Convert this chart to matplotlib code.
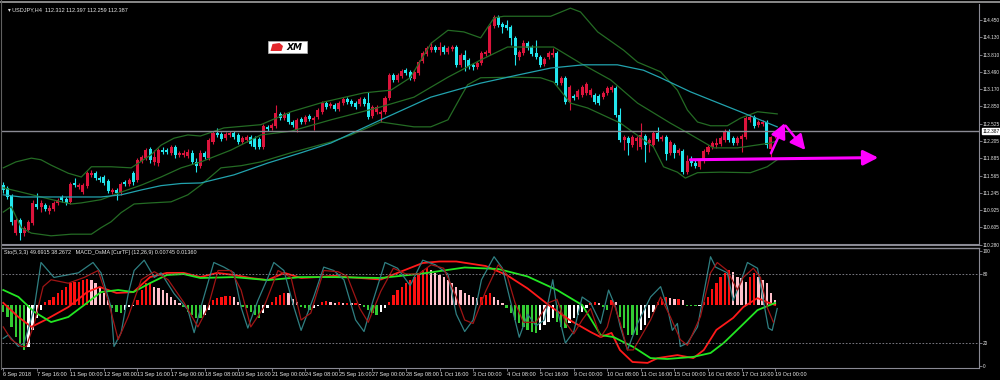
import numpy as np
import matplotlib
matplotlib.use("Agg")
import matplotlib.pyplot as plt
from matplotlib.patches import Rectangle, Polygon

plt.rcParams["font.family"] = ["Liberation Sans", "DejaVu Sans"]

# ---------------- data: USDJPY H4 candles ----------------
opens = [111.40, 111.34, 111.19, 110.51, 110.74, 110.51, 110.56, 110.69, 111.04, 110.99,
         111.02, 110.91, 110.95, 111.06, 111.17, 111.13, 111.08, 111.43, 111.36, 111.27,
         111.38, 111.58, 111.62, 111.53, 111.54, 111.47, 111.27, 111.30, 111.25, 111.45,
         111.41, 111.62, 111.49, 111.84, 111.90, 112.06, 111.82, 111.80, 112.04, 112.04,
         111.99, 112.10, 111.95, 111.95, 111.93, 111.99, 111.82, 111.75, 111.99, 111.90,
         112.19, 112.36, 112.34, 112.27, 112.32, 112.36, 112.32, 112.19, 112.23, 112.28,
         112.27, 112.25, 112.10, 112.47, 112.45, 112.49, 112.71, 112.64, 112.71, 112.56,
         112.41, 112.62, 112.56, 112.67, 112.60, 112.65, 112.75, 112.91, 112.86, 112.88,
         112.80, 112.91, 112.99, 112.95, 112.91, 112.89, 112.99, 112.91, 112.67, 112.75,
         112.71, 112.75, 113.01, 113.43, 113.34, 113.41, 113.52, 113.49, 113.36, 113.47,
         113.69, 113.82, 113.89, 113.95, 113.89, 113.95, 113.86, 113.91, 113.95, 113.62,
         113.80, 113.71, 113.62, 113.58, 113.65, 113.82, 113.84, 114.34, 114.51, 114.38,
         114.36, 114.32, 114.12, 113.76, 113.84, 114.02, 113.95, 113.84, 113.76, 113.64,
         113.76, 113.80, 113.84, 113.28, 113.38, 112.93, 113.04, 113.02, 113.06, 113.10,
         113.06, 113.06, 113.04, 113.02, 113.10, 113.15, 113.19, 112.69, 112.23, 112.27,
         112.14, 112.21, 112.10, 112.30, 112.17, 112.14, 112.36, 112.25, 112.28, 111.99,
         112.14, 111.99, 112.03, 111.64, 111.84, 111.80, 111.73, 111.84, 112.01, 112.10,
         112.14, 112.15, 112.23, 112.39, 112.27, 112.17, 112.25, 112.28, 112.60, 112.65,
         112.51, 112.52, 112.56, 112.06, 112.31]
highs = [111.45, 111.38, 111.23, 110.78, 110.78, 110.64, 110.74, 111.12, 111.25, 111.12,
         111.06, 111.02, 111.10, 111.15, 111.21, 111.17, 111.45, 111.53, 111.43, 111.43,
         111.65, 111.67, 111.65, 111.56, 111.58, 111.51, 111.34, 111.34, 111.45, 111.49,
         111.53, 111.65, 111.90, 111.95, 112.08, 112.10, 112.04, 112.08, 112.10, 112.08,
         112.14, 112.14, 112.03, 112.04, 112.06, 112.04, 111.90, 112.04, 112.03, 112.27,
         112.39, 112.45, 112.38, 112.38, 112.39, 112.39, 112.36, 112.30, 112.32, 112.32,
         112.30, 112.28, 112.52, 112.51, 112.54, 112.88, 112.75, 112.75, 112.75, 112.60,
         112.64, 112.65, 112.69, 112.71, 112.67, 112.82, 112.95, 112.95, 112.93, 112.91,
         112.95, 113.02, 113.02, 112.99, 112.95, 113.02, 113.02, 113.12, 112.88, 112.88,
         112.78, 113.04, 113.47, 113.47, 113.47, 113.54, 113.56, 113.52, 113.52, 113.71,
         113.88, 113.97, 114.04, 113.99, 114.04, 113.99, 113.97, 113.99, 113.99, 113.84,
         113.89, 113.75, 113.65, 113.69, 113.88, 113.89, 114.38, 114.54, 114.54, 114.41,
         114.45, 114.36, 114.15, 113.89, 114.08, 114.06, 113.99, 114.08, 113.80, 113.76,
         113.88, 113.93, 113.88, 113.41, 113.41, 113.25, 113.08, 113.17, 113.25, 113.30,
         113.19, 113.10, 113.08, 113.13, 113.23, 113.25, 113.23, 112.82, 112.32, 112.30,
         112.32, 112.30, 112.54, 112.34, 112.27, 112.39, 112.47, 112.32, 112.32, 112.23,
         112.17, 112.08, 112.06, 111.95, 111.93, 111.86, 111.88, 112.06, 112.14, 112.21,
         112.27, 112.30, 112.43, 112.43, 112.30, 112.30, 112.34, 112.67, 112.71, 112.69,
         112.60, 112.60, 112.60, 112.30, 112.40]
lows = [111.25, 111.13, 110.65, 110.47, 110.38, 110.45, 110.52, 110.65, 110.95, 110.89,
        110.91, 110.86, 110.91, 111.02, 111.08, 111.02, 111.04, 111.36, 111.32, 111.23,
        111.34, 111.54, 111.49, 111.45, 111.40, 111.25, 111.23, 111.12, 111.21, 111.38,
        111.38, 111.40, 111.45, 111.80, 111.86, 111.80, 111.77, 111.75, 111.97, 111.97,
        111.95, 111.90, 111.91, 111.91, 111.90, 111.78, 111.64, 111.71, 111.88, 111.86,
        112.15, 112.28, 112.21, 112.23, 112.28, 112.25, 112.15, 112.15, 112.19, 112.12,
        112.06, 112.06, 112.06, 112.39, 112.41, 112.45, 112.60, 112.60, 112.52, 112.47,
        112.38, 112.52, 112.52, 112.58, 112.41, 112.62, 112.71, 112.80, 112.82, 112.76,
        112.76, 112.88, 112.89, 112.86, 112.80, 112.86, 112.86, 112.62, 112.64, 112.71,
        112.56, 112.71, 112.97, 113.30, 113.30, 113.38, 113.43, 113.34, 113.32, 113.43,
        113.65, 113.78, 113.86, 113.86, 113.80, 113.82, 113.82, 113.88, 113.58, 113.58,
        113.51, 113.54, 113.52, 113.54, 113.62, 113.78, 113.80, 114.30, 114.32, 114.21,
        114.26, 113.99, 113.62, 113.71, 113.80, 113.89, 113.78, 113.73, 113.58, 113.60,
        113.73, 113.76, 113.25, 113.25, 112.89, 112.78, 112.97, 112.99, 113.02, 113.06,
        113.02, 112.89, 112.88, 112.99, 113.06, 113.12, 112.65, 112.19, 112.04, 111.95,
        112.10, 112.04, 112.06, 111.82, 112.01, 112.10, 112.21, 112.21, 111.86, 111.95,
        111.90, 111.95, 111.60, 111.60, 111.75, 111.71, 111.69, 111.80, 111.97, 112.06,
        112.08, 112.12, 112.19, 112.19, 112.14, 112.14, 112.01, 112.25, 112.56, 112.45,
        112.47, 112.49, 112.08, 111.91, 112.26]
closes = [111.30, 111.17, 110.71, 110.74, 110.51, 110.60, 110.71, 111.06, 110.99, 111.06,
          110.95, 110.97, 111.06, 111.12, 111.12, 111.06, 111.41, 111.40, 111.40, 111.40,
          111.62, 111.62, 111.53, 111.49, 111.43, 111.28, 111.30, 111.25, 111.41, 111.41,
          111.49, 111.45, 111.86, 111.91, 112.04, 111.86, 111.91, 112.04, 112.01, 112.01,
          112.10, 111.95, 111.99, 111.99, 112.01, 111.82, 111.75, 111.99, 111.91, 112.23,
          112.36, 112.32, 112.25, 112.34, 112.36, 112.28, 112.19, 112.27, 112.28, 112.15,
          112.10, 112.10, 112.49, 112.43, 112.51, 112.73, 112.64, 112.71, 112.56, 112.51,
          112.60, 112.56, 112.65, 112.62, 112.64, 112.78, 112.91, 112.84, 112.89, 112.80,
          112.91, 112.99, 112.93, 112.89, 112.84, 112.99, 112.89, 112.65, 112.84, 112.84,
          112.75, 113.01, 113.43, 113.34, 113.43, 113.51, 113.47, 113.38, 113.49, 113.67,
          113.84, 113.93, 113.95, 113.89, 113.95, 113.86, 113.93, 113.95, 113.62, 113.80,
          113.71, 113.58, 113.58, 113.65, 113.84, 113.86, 114.34, 114.51, 114.36, 114.32,
          114.30, 114.12, 113.80, 113.86, 114.02, 113.93, 113.82, 113.76, 113.62, 113.73,
          113.84, 113.84, 113.28, 113.38, 112.93, 113.21, 113.01, 113.13, 113.21, 113.26,
          113.15, 112.93, 112.91, 113.10, 113.19, 113.21, 112.69, 112.23, 112.28, 112.17,
          112.28, 112.27, 112.32, 112.14, 112.23, 112.36, 112.25, 112.28, 111.97, 112.19,
          111.99, 112.04, 111.64, 111.84, 111.80, 111.75, 111.84, 112.03, 112.10, 112.17,
          112.17, 112.27, 112.39, 112.23, 112.17, 112.27, 112.30, 112.64, 112.65, 112.49,
          112.56, 112.56, 112.14, 112.28, 112.39]

# Bollinger bands and moving average, sampled (bar index, price)
bb_up_x = [0, 3, 6.7, 9, 11.4, 15.5, 18.6, 21, 25.7, 30.5, 35.2, 37.6, 40.7, 44, 47, 52.6, 61.4,
           68.6, 76.4, 86, 92.4, 97, 102, 106, 109.8, 113.8, 117, 119.3, 130.5, 135.2, 137.6,
           141.7, 147.9, 151.2, 156.7, 160.7, 163.1, 165.5, 168.6, 172.6, 175.7, 179.8, 184.5]
bb_up_y = [111.71, 111.82, 111.89, 111.86, 111.76, 111.61, 111.54, 111.73, 111.73, 111.71,
           111.95, 112.13, 112.26, 112.32, 112.30, 112.45, 112.51, 112.75, 112.93, 113.10,
           113.15, 113.38, 114.02, 114.26, 114.23, 114.12, 114.49, 114.52, 114.52, 114.67,
           114.60, 114.23, 113.89, 113.67, 113.49, 113.15, 112.78, 112.56, 112.49, 112.49,
           112.63, 112.75, 112.71]
bb_mid_x = [0, 4.3, 9, 13.8, 16.2, 18.6, 23.3, 28.1, 32.9, 37.6, 42.4, 47.1, 54.3, 61.4, 68.6,
            78.1, 90, 97.9, 106, 113.8, 120.2, 131.2, 137.6, 144.8, 151.2, 159, 163.1, 169.3,
            175, 182.9, 184.5]
bb_mid_y = [111.34, 111.26, 111.17, 111.08, 111.04, 111.06, 111.12, 111.26, 111.39, 111.54,
            111.71, 111.82, 112.04, 112.32, 112.39, 112.60, 112.84, 113.02, 113.39, 113.71,
            113.95, 113.95, 113.65, 113.34, 112.91, 112.54, 112.36, 112.08, 112.08, 112.17,
            112.21]
bb_lo_x = [0, 1.9, 4.3, 6.7, 11.4, 16.2, 21, 23.3, 25.7, 28.1, 31.2, 35.2, 40, 44, 47.1, 51.9,
           56.7, 61.4, 68.6, 78.1, 82.9, 90, 97.9, 101.9, 106, 109, 110.7, 113.8, 121.7, 128.1,
           131.2, 135.2, 139.3, 147.1, 155, 157.4, 160.7, 162.6, 165.5, 171, 178.1, 182.1, 184.5]
bb_lo_y = [110.89, 110.99, 110.60, 110.50, 110.45, 110.48, 110.48, 110.60, 110.71, 110.88,
           111.04, 111.06, 111.08, 111.21, 111.39, 111.71, 111.75, 111.82, 111.99, 112.19,
           112.32, 112.56, 112.47, 112.47, 112.60, 113.02, 113.25, 113.38, 113.39, 113.38,
           113.30, 112.91, 112.82, 112.54, 112.10, 111.73, 111.63, 111.52, 111.62, 111.63,
           111.62, 111.73, 111.86]
ma_x = [0, 4.3, 13.8, 23.3, 28.1, 32.9, 37.6, 42.4, 47.1, 55, 63.1, 71, 78.1, 90, 101.9, 113.8,
        122.6, 130.5, 138.3, 146.4, 152.6, 156.7, 163.8, 168.6, 175.7, 184.5]
ma_y = [111.21, 111.17, 111.17, 111.17, 111.21, 111.30, 111.38, 111.42, 111.43, 111.58, 111.80,
        111.99, 112.17, 112.60, 113.02, 113.28, 113.43, 113.56, 113.62, 113.62, 113.52, 113.38,
        113.12, 112.97, 112.75, 112.47]

# MACD OsMA histogram (one value per bar) and its two signal lines
osma = [-0.022, -0.039, -0.072, -0.106, -0.128, -0.150, -0.139, -0.083, -0.044, -0.017,
        0.011, 0.017, 0.028, 0.039, 0.050, 0.061, 0.072, 0.076, 0.078, 0.083,
        0.086, 0.083, 0.074, 0.061, 0.039, 0.017, -0.010, -0.022, -0.028, -0.017,
        -0.008, -0.005, 0.017, 0.050, 0.072, 0.072, 0.061, 0.056, 0.050, 0.039,
        0.028, 0.017, 0.006, -0.008, -0.022, -0.033, -0.044, -0.044, -0.033, -0.017,
        0.017, 0.022, 0.028, 0.030, 0.031, 0.026, 0.011, -0.006, -0.011, -0.022,
        -0.033, -0.044, -0.028, -0.011, 0.011, 0.026, 0.033, 0.041, 0.039, 0.019,
        0.011, -0.006, -0.011, -0.017, -0.011, -0.004, 0.011, 0.012, 0.010, 0.008,
        0.009, 0.006, 0.008, 0.005, 0.005, 0.003, -0.006, -0.017, -0.028, -0.033,
        -0.022, -0.011, 0.011, 0.033, 0.050, 0.061, 0.072, 0.083, 0.094, 0.106,
        0.117, 0.122, 0.117, 0.106, 0.100, 0.094, 0.083, 0.072, 0.061, 0.050,
        0.039, 0.033, 0.028, 0.022, 0.028, 0.033, 0.039, 0.028, 0.017, 0.006,
        -0.011, -0.028, -0.050, -0.061, -0.072, -0.083, -0.089, -0.094, -0.083, -0.067,
        -0.056, -0.044, -0.056, -0.072, -0.078, -0.061, -0.044, -0.033, -0.022, -0.011,
        0.006, 0.011, 0.006, -0.006, -0.017, 0.017, 0.010, -0.039, -0.078, -0.100,
        -0.100, -0.101, -0.083, -0.067, -0.044, -0.022, 0.011, 0.019, 0.026, 0.022,
        0.019, 0.020, 0.017, -0.003, -0.003, -0.004, -0.002, 0.011, 0.028, 0.052,
        0.072, 0.094, 0.106, 0.117, 0.111, 0.094, 0.089, 0.078, 0.094, 0.106,
        0.092, 0.083, 0.072, 0.039, 0.017]
macd_x = [0, 3.6, 6.7, 10, 15.5, 20, 23, 27, 31, 35, 39, 43, 47, 51, 55, 59, 63, 67, 71, 75, 79,
          82, 90, 100, 104, 108, 115, 120, 125, 130, 135, 140, 142.4, 145, 147, 150, 153.6, 156,
          160.7, 164.5, 167, 170, 174, 176.4, 179.8, 182, 184]
macd_y = [0.007, -0.040, -0.073, -0.050, -0.007, 0.043, 0.060, 0.040, 0.043, 0.093, 0.107,
          0.107, 0.093, 0.107, 0.100, 0.090, 0.083, 0.107, 0.090, 0.093, 0.097, 0.093, 0.085,
          0.140, 0.145, 0.145, 0.130, 0.100, 0.055, 0.000, -0.050, -0.090, -0.107, -0.093,
          -0.150, -0.190, -0.193, -0.177, -0.167, -0.177, -0.150, -0.083, -0.043, -0.007, 0.023,
          0.010, 0.000]
sig_x = [0, 3.6, 7.4, 11.4, 15.5, 19.3, 23.3, 27.4, 31, 35, 39, 43, 47, 55, 63, 71, 79, 90, 100,
         110, 118, 125, 132, 138, 142.4, 145.5, 150.2, 154.3, 158.3, 164.5, 168.6, 171.7, 175.7,
         179.8, 184]
sig_y = [0.050, 0.027, -0.023, -0.057, -0.040, 0.000, 0.043, 0.050, 0.043, 0.073, 0.100, 0.103,
         0.090, 0.093, 0.083, 0.093, 0.093, 0.090, 0.105, 0.125, 0.120, 0.095, 0.050, 0.000,
         -0.100, -0.107, -0.140, -0.177, -0.180, -0.173, -0.160, -0.127, -0.073, -0.017, 0.007]

# Stochastic (5,3,3): main and signal, sampled at turning points
sto_x = [0, 1.2, 3.6, 5, 7.4, 9, 12.1, 17.9, 21.4, 23.3, 25.7, 26.4, 28.1, 29.8, 31.2, 33.6, 36,
         37.6, 40.7, 44, 45.5, 47.1, 50.2, 52.6, 55, 56.7, 58.3, 60.7, 63.1, 64.5, 66.9, 69.3,
         71, 74, 76.4, 78.8, 81.2, 84, 86, 88, 91, 94, 97, 100, 103, 106, 108, 110, 112, 114,
         117, 119, 121, 123, 125, 127, 129, 131, 132, 134, 136, 138, 140, 142.4, 144.3, 146,
         147.1, 148.8, 151.2, 154.3, 156.7, 158.3, 159.5, 160.7, 161.4, 163.1, 165.5, 167.9,
         168.6, 169.8, 172.6, 174, 175.7, 177.4, 179.8, 181.2, 182.4, 183.3, 184.5]
sto_y = [24, 27, 17, 20, 51, 90, 77, 81, 90, 81, 51, 17, 29, 63, 83, 92, 77, 81, 63, 49, 29, 51,
         90, 86, 81, 51, 33, 57, 77, 90, 83, 51, 31, 60, 86, 83, 75, 40, 30, 55, 90, 85, 70, 92,
         88, 80, 45, 30, 40, 75, 95, 85, 55, 25, 45, 35, 40, 75, 50, 20, 30, 60, 55, 37, 66, 51,
         34, 14, 37, 60, 69, 51, 31, 37, 17, 20, 34, 81, 95, 86, 81, 57, 72, 90, 85, 57, 33, 31,
         50]
stos_x = [0, 1.9, 4.3, 5.5, 7.4, 9.5, 11.4, 15.5, 19.3, 22.6, 25, 27.4, 29.8, 32.9, 36, 39.3,
          43.1, 46.4, 48.8, 51.2, 54.3, 56.7, 59, 62.1, 65.5, 68.6, 71, 73.3, 76.4, 79.8, 82,
          85, 87, 90, 93, 96, 99, 102, 105, 108, 110, 112, 115, 118, 120, 122, 124, 127, 130,
          132, 134, 136, 138, 140, 142.4, 144, 145.5, 147.1, 148.8, 150.2, 154.3, 156.7, 159,
          161.4, 163.1, 166.2, 168.6, 170.2, 172.6, 175, 176.4, 178.8, 180.5, 182.1, 183.6]
stos_y = [34, 23, 17, 17, 37, 69, 75, 72, 77, 83, 57, 23, 43, 75, 82, 75, 55, 34, 51, 83, 83, 66,
          34, 51, 83, 77, 40, 46, 83, 82, 78, 50, 38, 65, 85, 80, 80, 88, 85, 60, 40, 37, 65, 88,
          80, 55, 38, 38, 55, 58, 38, 28, 40, 50, 25, 34, 55, 37, 14, 14, 40, 60, 43, 23, 18, 43,
          81, 90, 83, 66, 77, 85, 77, 51, 38]

price_ticks = [114.450, 114.130, 113.810, 113.490, 113.170, 112.850, 112.525, 112.205,
               111.885, 111.565, 111.245, 110.925, 110.605, 110.280]
last_price = 112.387
time_labels = ["6 Sep 2018", "7 Sep 16:00", "11 Sep 00:00", "12 Sep 08:00", "13 Sep 16:00",
               "17 Sep 00:00", "18 Sep 08:00", "19 Sep 16:00", "21 Sep 00:00", "24 Sep 08:00",
               "25 Sep 16:00", "27 Sep 00:00", "28 Sep 08:00", "1 Oct 16:00", "3 Oct 00:00",
               "4 Oct 08:00", "5 Oct 16:00", "9 Oct 00:00", "10 Oct 08:00", "11 Oct 16:00",
               "15 Oct 00:00", "16 Oct 08:00", "17 Oct 16:00", "19 Oct 00:00"]

# ---------------- styling ----------------
BULL, BEAR = "#DC143C", "#22E6EE"
BAND, MA = "#246B24", "#22A3AE"
TXT = "#E8E8E8"
GRAY = "#8A8A94"
PINK = "#FF00FF"
FS = 4.0      # header / time labels
FSY = 3.4     # price scale

opens, highs, lows, closes = map(np.asarray, (opens, highs, lows, closes))
idx = np.arange(len(closes))
XMAX = 232.6

fig = plt.figure(figsize=(10, 3.8), dpi=100, facecolor="black")
ax = fig.add_axes([0.002, 0.3553, 0.977, 0.634], facecolor="black")
sub = fig.add_axes([0.002, 0.0316, 0.977, 0.3158], facecolor="black")

# ---- main price panel ----
up = closes >= opens
cols = np.where(up, BULL, BEAR)
ax.vlines(idx, lows, highs, colors=cols, lw=0.8)
body = np.maximum(np.abs(closes - opens), 0.012)
ax.bar(idx, body, bottom=np.minimum(opens, closes), width=0.72, color=cols, linewidth=0)

ax.plot(bb_up_x, bb_up_y, color=BAND, lw=0.9)
ax.plot(bb_mid_x, bb_mid_y, color=BAND, lw=0.9)
ax.plot(bb_lo_x, bb_lo_y, color=BAND, lw=0.9)
ax.plot(ma_x, ma_y, color=MA, lw=0.9)
ax.axhline(last_price, color=GRAY, lw=1.0)

# hand-drawn magenta arrows
arr = dict(arrowstyle="-|>,head_length=0.9,head_width=0.45", color=PINK, lw=2.2,
           shrinkA=0, shrinkB=0)
ax.annotate("", xy=(208.6, 111.90), xytext=(163.8, 111.86), arrowprops=arr)
ax.annotate("", xy=(186.3, 112.54), xytext=(183.0, 111.98),
            arrowprops=dict(arr, lw=1.8))
ax.annotate("", xy=(191.2, 112.04), xytext=(186.5, 112.49),
            arrowprops=dict(arr, lw=1.8))

ax.set_xlim(-0.3, XMAX)
ax.set_ylim(110.28, 114.746)
ax.yaxis.tick_right()
ax.set_yticks(price_ticks)
ax.set_yticklabels([f"{p:.3f}" for p in price_ticks])
ax.tick_params(axis="y", colors=GRAY, labelcolor=TXT, labelsize=FSY, length=2, pad=0.6, width=0.6)
ax.tick_params(axis="x", bottom=False, labelbottom=False)
for s in ax.spines.values():
    s.set_visible(False)
ax.spines["right"].set_visible(True)
ax.spines["right"].set_color(GRAY)
ax.spines["bottom"].set_visible(True)
ax.spines["bottom"].set_color(GRAY)
ax.spines["bottom"].set_linewidth(1.5)

ax.text(XMAX + 0.75, last_price, f"{last_price:.3f}", fontsize=FSY, color="black",
        va="center", ha="left", clip_on=False,
        bbox=dict(boxstyle="square,pad=0.12", fc="white", ec="white"))
ax.text(0.006, 0.986, "\u25be USDJPY,H4  112.312 112.397 112.259 112.387", transform=ax.transAxes,
        fontsize=FS, color=TXT, va="top", ha="left")

# XM logo
fig.patches.append(Rectangle((0.268, 1 - 53 / 380), 0.039, 12 / 380, transform=fig.transFigure,
                             fc="white", ec="#B0B0B0", lw=0.5))
fig.patches.append(Polygon([(0.2705, 1 - 51 / 380), (0.2725, 1 - 44 / 380), (0.2795, 1 - 43 / 380),
                            (0.2830, 1 - 46 / 380), (0.2815, 1 - 51 / 380)],
                           closed=True, transform=fig.transFigure, fc="#E3262B", ec="none"))
fig.text(0.2945, 1 - 47.5 / 380, "XM", fontsize=6.5, fontweight="bold", fontstyle="italic",
         family="DejaVu Sans", color="black", ha="center", va="center")

# ---- indicator sub panel ----
tw = sub.twinx()
tw.set_zorder(0)
sub.set_zorder(1)
sub.patch.set_visible(False)
hcol = []
for i, v in enumerate(osma):
    prev = osma[i - 1] if i else v
    if v >= 0:
        hcol.append("#FF1010" if v >= prev else "#FFC0CB")
    else:
        hcol.append("#33CC33" if v <= prev else "#FFFFFF")
tw.bar(idx, osma, width=0.55, color=hcol, linewidth=0)
tw.plot(macd_x, macd_y, color="#FF1A1A", lw=1.3)
tw.plot(sig_x, sig_y, color="#22E622", lw=1.3)
tw.set_ylim(-0.21, 0.19)
tw.set_yticks([])
for s in tw.spines.values():
    s.set_visible(False)

sub.plot(sto_x, sto_y, color="#2F7F82", lw=0.9)
sub.plot(stos_x, stos_y, color="#A01515", lw=0.9)
for lvl in (80, 20):
    sub.axhline(lvl, color=GRAY, lw=0.6, ls=(0, (2, 2)))
sub.set_xlim(-0.3, XMAX)
sub.set_ylim(-1.7, 102.6)
sub.yaxis.tick_right()
sub.set_yticks([100, 80, 20, 0])
sub.tick_params(axis="y", colors=GRAY, labelcolor=TXT, labelsize=FSY, length=2, pad=0.6, width=0.6)
sub.set_xticks(np.arange(len(time_labels)) * 8)
sub.set_xticklabels(time_labels)
sub.tick_params(axis="x", colors=GRAY, labelcolor=TXT, labelsize=FS, length=2, pad=1, width=0.6)
for lab in sub.get_xticklabels():
    lab.set_horizontalalignment("left")
for s in sub.spines.values():
    s.set_color(GRAY)
sub.spines["left"].set_visible(False)
sub.spines["top"].set_linewidth(1.0)
sub.text(0.002, 0.985, "Sto(5,3,3) 49.6915 38.2672   MACD_OsMA [CurTF] (12,26,9) 0.00745 0.01360",
         transform=sub.transAxes, fontsize=FS, color=TXT, va="top", ha="left")

# window frame lines
fig.add_artist(plt.Line2D([0, 1], [1 - 2 / 380, 1 - 2 / 380], color="#A0A0A0", lw=1.2))
fig.add_artist(plt.Line2D([0.001, 0.001], [0.03, 1], color="#606060", lw=0.8))

fig.savefig("out.png", dpi=100, facecolor="black")
